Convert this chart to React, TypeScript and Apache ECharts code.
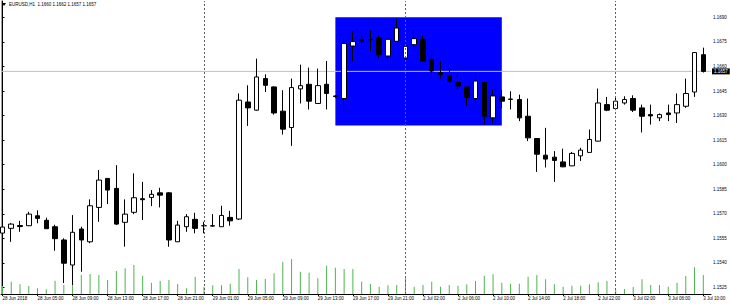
import React, { useEffect, useRef } from 'react';
import * as echarts from 'echarts';

const headerText = 'EURUSD,H1  1.1660 1.1662 1.1657 1.1657';

const openP = [
  1.15582, 1.15611, 1.15628, 1.15627, 1.15688, 1.1566, 1.15621, 1.1554, 1.15387, 1.15607,
  1.15529, 1.15739, 1.15916, 1.15855, 1.15648, 1.15709, 1.15792, 1.158, 1.15828, 1.15828,
  1.15529, 1.15621, 1.15666, 1.15627, 1.15627, 1.15621, 1.15678, 1.15668, 1.16383, 1.16333,
  1.16526, 1.16475, 1.16327, 1.16227, 1.16463, 1.16491, 1.16374, 1.16491, 1.1642, 1.16404,
  1.16725, 1.16766, 1.16765, 1.16774, 1.16664, 1.16754, 1.16652, 1.16733, 1.16766, 1.16644,
  1.16563, 1.16542, 1.16502, 1.16475, 1.16404, 1.16502, 1.16286, 1.16414, 1.16401, 1.16398,
  1.16296, 1.1616, 1.16058, 1.16046, 1.16017, 1.15993, 1.16054, 1.16075, 1.16144, 1.16367,
  1.16343, 1.16377, 1.16404, 1.16347, 1.16306, 1.16286, 1.16316, 1.16316, 1.16357, 1.16444,
  1.16672,
];
const closeP = [
  1.15619, 1.15637, 1.15622, 1.15698, 1.15672, 1.15609, 1.15548, 1.15398, 1.15587, 1.1554,
  1.15749, 1.15906, 1.15845, 1.15637, 1.15698, 1.15798, 1.15786, 1.15819, 1.15814, 1.1554,
  1.15631, 1.15682, 1.15611, 1.15627, 1.15625, 1.1569, 1.15657, 1.16394, 1.16347, 1.16536,
  1.16485, 1.16316, 1.16217, 1.16471, 1.16483, 1.16388, 1.16483, 1.16435, 1.16416, 1.1674,
  1.16752, 1.16754, 1.16763, 1.16672, 1.16766, 1.16835, 1.16723, 1.1677, 1.16633, 1.16572,
  1.16552, 1.16511, 1.16481, 1.1641, 1.16511, 1.16296, 1.1642, 1.16388, 1.16399, 1.16286,
  1.16164, 1.16064, 1.16034, 1.16026, 1.15987, 1.16069, 1.16089, 1.16154, 1.16377, 1.16333,
  1.16388, 1.16398, 1.16333, 1.16296, 1.16298, 1.16306, 1.16306, 1.16367, 1.16435, 1.16685,
  1.1657,
];
const lowP = [
  1.15564, 1.15529, 1.1559, 1.15625, 1.15642, 1.15607, 1.15474, 1.15277, 1.15265, 1.15346,
  1.1552, 1.15651, 1.15759, 1.15631, 1.15499, 1.15698, 1.15662, 1.15747, 1.15739, 1.15499,
  1.15527, 1.1559, 1.15581, 1.15581, 1.15621, 1.1562, 1.15627, 1.15662, 1.16237, 1.1633,
  1.16444, 1.16306, 1.16184, 1.16115, 1.16374, 1.16337, 1.16372, 1.16337, 1.16409, 1.16322,
  1.16633, 1.16709, 1.16693, 1.16652, 1.16627, 1.16752, 1.16638, 1.16693, 1.16627, 1.16526,
  1.16526, 1.16499, 1.16461, 1.16359, 1.16374, 1.16245, 1.16255, 1.16347, 1.16337, 1.16266,
  1.16144, 1.15956, 1.15983, 1.15895, 1.15985, 1.15991, 1.16023, 1.16074, 1.16142, 1.16327,
  1.16333, 1.16367, 1.16322, 1.16197, 1.16245, 1.16266, 1.16266, 1.16255, 1.16347, 1.16414,
  1.16563,
];
const highP = [
  1.15631, 1.15643, 1.15657, 1.15712, 1.15721, 1.15676, 1.15633, 1.1555, 1.15692, 1.15621,
  1.15788, 1.15967, 1.15918, 1.15997, 1.15788, 1.15947, 1.15895, 1.15845, 1.15859, 1.15832,
  1.15657, 1.15698, 1.15706, 1.15651, 1.15698, 1.15749, 1.15718, 1.16435, 1.16485, 1.16648,
  1.16552, 1.16479, 1.16455, 1.16526, 1.16611, 1.16593, 1.16587, 1.16633, 1.16424, 1.1677,
  1.16815, 1.1681, 1.16821, 1.16786, 1.16769, 1.16892, 1.16749, 1.16815, 1.1679, 1.16672,
  1.16632, 1.16591, 1.1655, 1.16479, 1.16542, 1.16504, 1.16461, 1.16455, 1.16449, 1.16428,
  1.16404, 1.16162, 1.16225, 1.16083, 1.16098, 1.16078, 1.16103, 1.16215, 1.16465, 1.16414,
  1.16408, 1.16418, 1.16424, 1.16367, 1.16367, 1.16313, 1.16367, 1.16435, 1.16526, 1.16687,
  1.16715,
];
const volumes = [
  2400, 3690, 2910, 2400, 1710, 1410, 3990, 2700, 3300, 5700,
  6000, 5700, 4200, 6900, 7710, 8700, 5490, 3390, 3900, 4200,
  3000, 1710, 5190, 2190, 2610, 2610, 3090, 7500, 5010, 4200,
  4500, 6210, 9690, 10500, 6690, 6390, 4710, 8490, 7890, 7500,
  7500, 3690, 3000, 2190, 2610, 2700, 4890, 2190, 2700, 3690,
  2190, 2700, 2490, 2910, 3900, 5490, 5910, 3390, 3090, 3090,
  5190, 5700, 4410, 2910, 2190, 2490, 2490, 2910, 3510, 3900,
  1200, 1500, 2100, 4410, 2700, 2700, 2190, 3390, 5400, 8010,
  5700,
];

const tickBars = [0, 4, 8, 12, 16, 20, 24, 28, 32, 36, 40, 44, 48, 52, 56, 60, 64, 68, 72, 76, 80];
const tickLabels = [
  '28 Jun 2018', '28 Jun 05:00', '28 Jun 09:00', '28 Jun 13:00', '28 Jun 17:00', '28 Jun 21:00',
  '29 Jun 01:00', '29 Jun 05:00', '29 Jun 09:00', '29 Jun 13:00', '29 Jun 17:00', '29 Jun 21:00',
  '2 Jul 02:00', '2 Jul 06:00', '2 Jul 10:00', '2 Jul 14:00', '2 Jul 18:00', '2 Jul 22:00',
  '3 Jul 02:00', '3 Jul 06:00', '3 Jul 10:00',
];
const priceTicks = [1.1525, 1.154, 1.1555, 1.157, 1.1585, 1.16, 1.1615, 1.163, 1.1645, 1.166, 1.1675, 1.169];
const daySeparators = [23, 46, 70];
const bidPrice = 1.1657;
const boxBars = [38, 57];
const boxPrices = [1.1624, 1.169];

const X_MIN = -0.17;
const X_MAX = 80.88;
const FONT = 'Liberation Sans';
const FS = 4.5;

export default function App() {
  const ref = useRef<HTMLDivElement>(null);
  useEffect(() => {
    document.body.style.margin = '0';
    const chart = echarts.init(ref.current!, null, { renderer: 'svg' });
    const candleData = openP.map((o, i) => [i, o, closeP[i], lowP[i], highP[i]]);
    const volData = volumes.map((v, i) => [i, v]);
    chart.setOption({
      animation: false,
      backgroundColor: '#ffffff',
      textStyle: { fontFamily: FONT },
      grid: { left: 1, right: 19, top: 1, bottom: 10, outerBoundsMode: 'none' },
      xAxis: {
        type: 'value',
        min: X_MIN,
        max: X_MAX,
        axisLine: { show: true, onZero: false, lineStyle: { color: '#000', width: 1 } },
        splitLine: { show: false },
        axisTick: { show: true, customValues: tickBars, length: 2, lineStyle: { color: '#000' } },
        axisLabel: {
          customValues: tickBars,
          formatter: (v: number) => tickLabels[tickBars.indexOf(Math.round(v))] ?? '',
          align: 'left',
          fontSize: FS,
          margin: 2,
          color: '#000',
          fontFamily: FONT,
        },
      },
      yAxis: [
        {
          type: 'value',
          position: 'right',
          min: 1.1521,
          max: 1.17,
          axisLine: { show: true, lineStyle: { color: '#000', width: 1 } },
          axisTick: { show: true, customValues: priceTicks, length: 2, lineStyle: { color: '#000' } },
          axisLabel: {
            customValues: priceTicks,
            formatter: (v: number) => v.toFixed(4),
            fontSize: FS,
            margin: 2,
            color: '#000',
            fontFamily: FONT,
          },
          splitLine: { show: false },
        },
        {
          type: 'value',
          position: 'left',
          min: 0,
          max: 87900,
          axisLine: { show: true, lineStyle: { color: '#a0a0a0', width: 1 } },
          axisTick: { show: false },
          axisLabel: { show: false },
          splitLine: { show: false },
        },
      ],
      graphic: [
        { type: 'polygon', shape: { points: [[2, 3], [6, 3], [4, 6]] }, style: { fill: '#000' } },
        { type: 'text', left: 9, top: 2, style: { text: headerText, fontSize: FS, fontFamily: FONT, fill: '#000' } },
      ],
      series: [
        {
          name: 'box',
          type: 'line',
          data: [],
          z: 1,
          markArea: {
            silent: true,
            itemStyle: { color: '#0000ff', opacity: 1 },
            data: [[{ xAxis: boxBars[0], yAxis: boxPrices[1] }, { xAxis: boxBars[1], yAxis: boxPrices[0] }]],
          },
        },
        {
          name: 'volume',
          type: 'bar',
          yAxisIndex: 1,
          data: volData,
          barWidth: 1,
          z: 2,
          itemStyle: { color: '#4fb34f' },
        },
        {
          name: 'separators',
          type: 'line',
          data: [],
          z: 2,
          markLine: {
            silent: true,
            symbol: ['none', 'none'],
            label: { show: false },
            lineStyle: { color: '#606060', type: [2, 2], width: 1 },
            data: daySeparators.map((v) => ({ xAxis: v })),
          },
        },
        {
          name: 'bid',
          type: 'line',
          data: [[X_MIN, bidPrice], [X_MAX, bidPrice]],
          z: 2,
          silent: true,
          clip: false,
          symbol: 'none',
          lineStyle: { color: '#c0c0c0', width: 1 },
          endLabel: {
            show: true,
            formatter: () => bidPrice.toFixed(4),
            distance: 1,
            backgroundColor: '#000',
            color: '#fff',
            fontSize: FS,
            fontFamily: FONT,
            padding: [1, 2, 0, 2],
          },
        },
        {
          name: 'EURUSD',
          type: 'candlestick',
          data: candleData,
          z: 3,
          barWidth: 5,
          itemStyle: {
            color: '#ffffff',
            color0: '#000000',
            borderColor: '#000000',
            borderColor0: '#000000',
            borderColorDoji: '#000000',
            borderWidth: 1,
          },
        },
      ],
    });
    return () => chart.dispose();
  }, []);
  return <div ref={ref} style={{ position: 'absolute', left: 0, top: 0, width: 730, height: 304 }} />;
}
